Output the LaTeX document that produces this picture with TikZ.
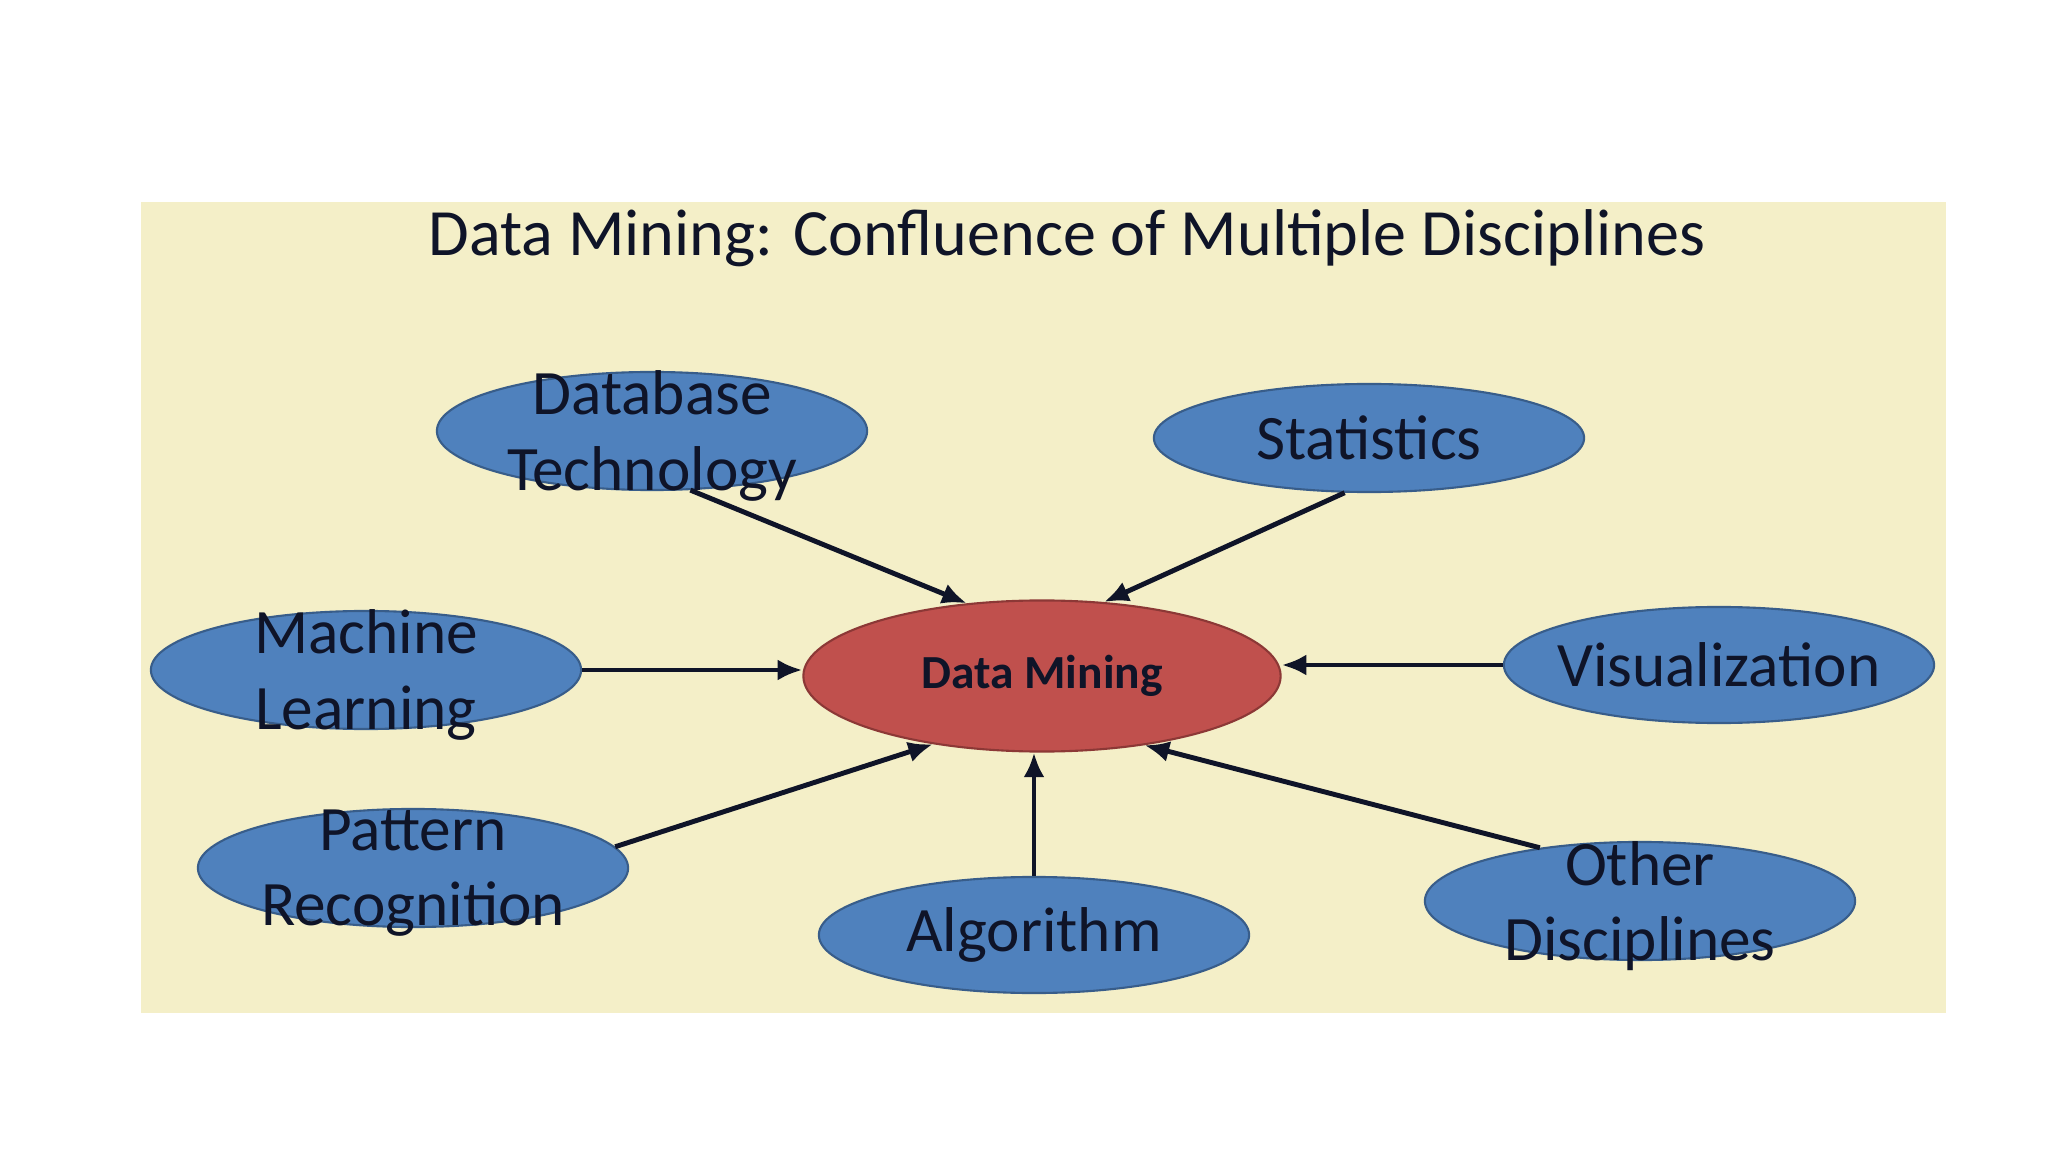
\documentclass[tikz,border=0pt]{standalone}
\usepackage{fontspec}
\setmainfont{Carlito}
\usetikzlibrary{shapes.geometric, arrows.meta, positioning}
\definecolor{paper}{RGB}{244,239,200}
\definecolor{discblue}{RGB}{79,129,189}
\definecolor{discedge}{RGB}{56,93,138}
\definecolor{corered}{RGB}{192,80,77}
\definecolor{coreedge}{RGB}{140,56,54}
\definecolor{inkblack}{RGB}{15,20,40}

\begin{document}
\begin{tikzpicture}[x=0.01cm, y=-0.01cm, >={Latex[length=7pt,width=6pt]}]
  \tikzstyle{disc} = [ellipse, draw=discedge, fill=discblue, line width=0.6pt, minimum width=4.3cm, minimum height=1.18cm, inner sep=0pt]
  \tikzstyle{disctext} = [align=center, font=\fontsize{18}{21.5}\selectfont, text=inkblack, inner sep=0pt]
  \tikzstyle{feed} = [->, line width=1.4pt, inkblack]

  \useasboundingbox (0,0) rectangle (2048,1152);
  \fill [paper] (141,202) rectangle (1946,1013);

  \node [font=\fontsize{18.8}{23}\selectfont, text=inkblack] (title) at (1067,238) {Data Mining: Confluence of Multiple Disciplines};

  \node [ellipse, draw=coreedge, fill=corered, line width=0.6pt, minimum width=4.77cm, minimum height=1.51cm, inner sep=0pt, font=\fontsize{13.5}{16}\selectfont\bfseries, text=inkblack] (dm) at (1042,676) {Data Mining};

  \node [disc] (db) at (652,431) {};
  \node [disc, minimum height=1.08cm] (st) at (1369,438) {};
  \node [disc] (ml) at (366,670) {};
  \node [disc, minimum height=1.16cm] (vz) at (1719,665) {};
  \node [disc] (pr) at (413,868) {};
  \node [disc, minimum height=1.16cm] (alg) at (1034,935) {};
  \node [disc] (od) at (1640,901) {};

  \draw [feed] (db.-57) -- (dm.136);
  \draw [feed] (st.246) -- (dm.50);
  \draw [feed] (ml.east) -- (ml.east -| dm.west);
  \draw [feed] (vz.west) -- (vz.west -| dm.east);
  \draw [feed] (pr.6) -- (dm.212);
  \draw [feed] (alg.north) -- (alg.north |- dm.south);
  \draw [feed] (od.152) -- (dm.-34);

  \node [disctext, yshift=-0.5mm] (db-t) at (db) {Database\\Technology};
  \node [disctext] (st-t) at (st) {Statistics};
  \node [disctext, yshift=-0.5mm] (ml-t) at (ml) {Machine\\Learning};
  \node [disctext] (vz-t) at (vz) {Visualization};
  \node [disctext, yshift=-0.5mm] (pr-t) at (pr) {Pattern\\Recognition};
  \node [disctext] (alg-t) at (alg) {Algorithm};
  \node [disctext, yshift=-0.5mm] (od-t) at (od) {Other\\Disciplines};
\end{tikzpicture}
\end{document}
